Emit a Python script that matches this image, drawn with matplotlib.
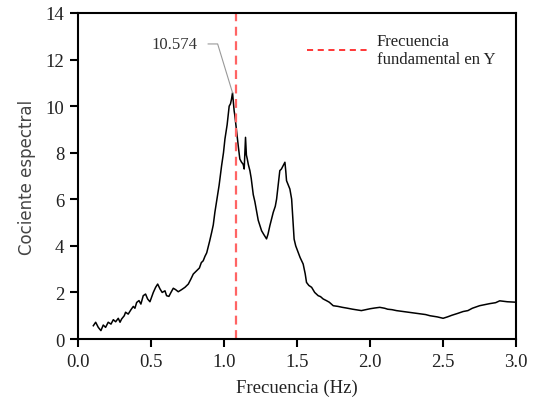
import matplotlib.pyplot as plt
from matplotlib.lines import Line2D

# spectral ratio curve
freq = [0.103, 0.119, 0.137, 0.155, 0.171, 0.187, 0.205, 0.224, 0.240, 0.256,
        0.274, 0.286, 0.297, 0.315, 0.324, 0.342, 0.361, 0.377, 0.388, 0.400,
        0.416, 0.429, 0.445, 0.461, 0.475, 0.491, 0.502, 0.514, 0.530, 0.544,
        0.560, 0.575, 0.594, 0.605, 0.621, 0.635, 0.651, 0.667, 0.685, 0.708,
        0.731, 0.754, 0.772, 0.788, 0.811, 0.830, 0.843, 0.856, 0.868, 0.880,
        0.890, 0.900, 0.914, 0.925, 0.936, 0.950, 0.965, 0.982, 0.995, 1.005,
        1.020, 1.034, 1.043, 1.050, 1.057, 1.062, 1.068, 1.073, 1.085, 1.096,
        1.107, 1.118, 1.130, 1.137, 1.146, 1.152, 1.158, 1.165, 1.176, 1.185,
        1.199, 1.210, 1.233, 1.256, 1.270, 1.290, 1.300, 1.313, 1.336, 1.350,
        1.359, 1.370, 1.381, 1.392, 1.404, 1.416, 1.422, 1.427, 1.440, 1.450,
        1.462, 1.470, 1.479, 1.490, 1.507, 1.520, 1.541, 1.555, 1.564, 1.580,
        1.599, 1.620, 1.644, 1.660, 1.678, 1.700, 1.720, 1.747, 1.780, 1.810,
        1.838, 1.880, 1.910, 1.940, 1.970, 2.000, 2.030, 2.066, 2.100, 2.120,
        2.150, 2.180, 2.240, 2.295, 2.350, 2.380, 2.410, 2.460, 2.500, 2.530,
        2.560, 2.600, 2.637, 2.670, 2.700, 2.750, 2.790, 2.820, 2.860, 2.888,
        2.940, 3.000]
ratio = [0.57, 0.72, 0.50, 0.36, 0.60, 0.50, 0.72, 0.64, 0.83, 0.74,
         0.89, 0.72, 0.86, 1.00, 1.15, 1.07, 1.26, 1.40, 1.32, 1.57,
         1.65, 1.50, 1.86, 1.93, 1.72, 1.60, 1.79, 2.00, 2.22, 2.36,
         2.15, 2.00, 2.07, 1.86, 1.83, 2.00, 2.18, 2.12, 2.03, 2.12,
         2.22, 2.36, 2.58, 2.79, 2.93, 3.05, 3.28, 3.36, 3.55, 3.70,
         3.95, 4.20, 4.58, 4.90, 5.44, 6.00, 6.60, 7.44, 8.00, 8.59,
         9.20, 10.00, 10.10, 10.30, 10.574, 10.20, 9.80, 9.59, 8.90, 8.30,
         7.73, 7.60, 7.50, 7.30, 8.66, 7.90, 7.73, 7.50, 7.23, 6.90,
         6.20, 5.90, 5.10, 4.65, 4.50, 4.30, 4.50, 4.87, 5.44, 5.70,
         6.01, 6.60, 7.23, 7.30, 7.44, 7.59, 7.20, 6.80, 6.60, 6.44,
         6.01, 5.20, 4.29, 4.00, 3.72, 3.50, 3.22, 2.80, 2.43, 2.30,
         2.22, 2.00, 1.86, 1.82, 1.72, 1.65, 1.58, 1.43, 1.40, 1.36,
         1.33, 1.28, 1.25, 1.22, 1.26, 1.30, 1.33, 1.36, 1.32, 1.28,
         1.26, 1.22, 1.17, 1.12, 1.08, 1.05, 1.00, 0.95, 0.89, 0.95,
         1.02, 1.10, 1.18, 1.22, 1.32, 1.43, 1.48, 1.52, 1.56, 1.64,
         1.60, 1.58]

f_fund = 1.08
peak_label = "10.574"
label_pos = (0.82, 12.67)

plt.rcParams['font.family'] = ['Liberation Serif', 'DejaVu Serif']

fig = plt.figure(figsize=(5.37, 4.10), dpi=100)
ax = fig.add_axes([0.1458, 0.1707, 0.8152, 0.7952])

ax.plot(freq, ratio, color='black', lw=1.1)
ax.axvline(f_fund, color='#ff6464', lw=1.6, ls=(0, (4, 2.5)))

# peak annotation with leader line
i_peak = ratio.index(max(ratio))
ax.text(label_pos[0], label_pos[1], peak_label, ha='right', va='center',
        fontsize=12, color='#333333')
ax.plot([label_pos[0] + 0.07, label_pos[0] + 0.135, freq[i_peak]],
        [label_pos[1], label_pos[1], ratio[i_peak]],
        color='#999999', lw=0.8)

ax.set_xlim(0, 3.0)
ax.set_ylim(0, 14)
ax.set_xticks([0.0, 0.5, 1.0, 1.5, 2.0, 2.5, 3.0])
ax.set_xticklabels(['0.0', '0.5', '1.0', '1.5', '2.0', '2.5', '3.0'])
ax.set_yticks(range(0, 15, 2))

for s in ax.spines.values():
    s.set_linewidth(1.5)
ax.tick_params(direction='out', length=6, width=1.5, labelsize=13.5, pad=4,
               labelcolor='#222222')

ax.set_xlabel('Frecuencia (Hz)', fontsize=13.5, labelpad=6, color='#222222')
ax.set_ylabel('Cociente espectral', fontsize=12, family='DejaVu Sans',
              color='#444444', labelpad=7)

handle = Line2D([], [], color='red', lw=1.1, ls=(0, (4, 3)))
ax.legend([handle], ['Frecuencia\nfundamental en Y'], loc='upper left',
          bbox_to_anchor=(0.522, 0.94), frameon=False, fontsize=12,
          handlelength=3.6, handletextpad=0.6, borderpad=0, borderaxespad=0,
          labelcolor='#222222')

fig.savefig('out.png', dpi=100)
